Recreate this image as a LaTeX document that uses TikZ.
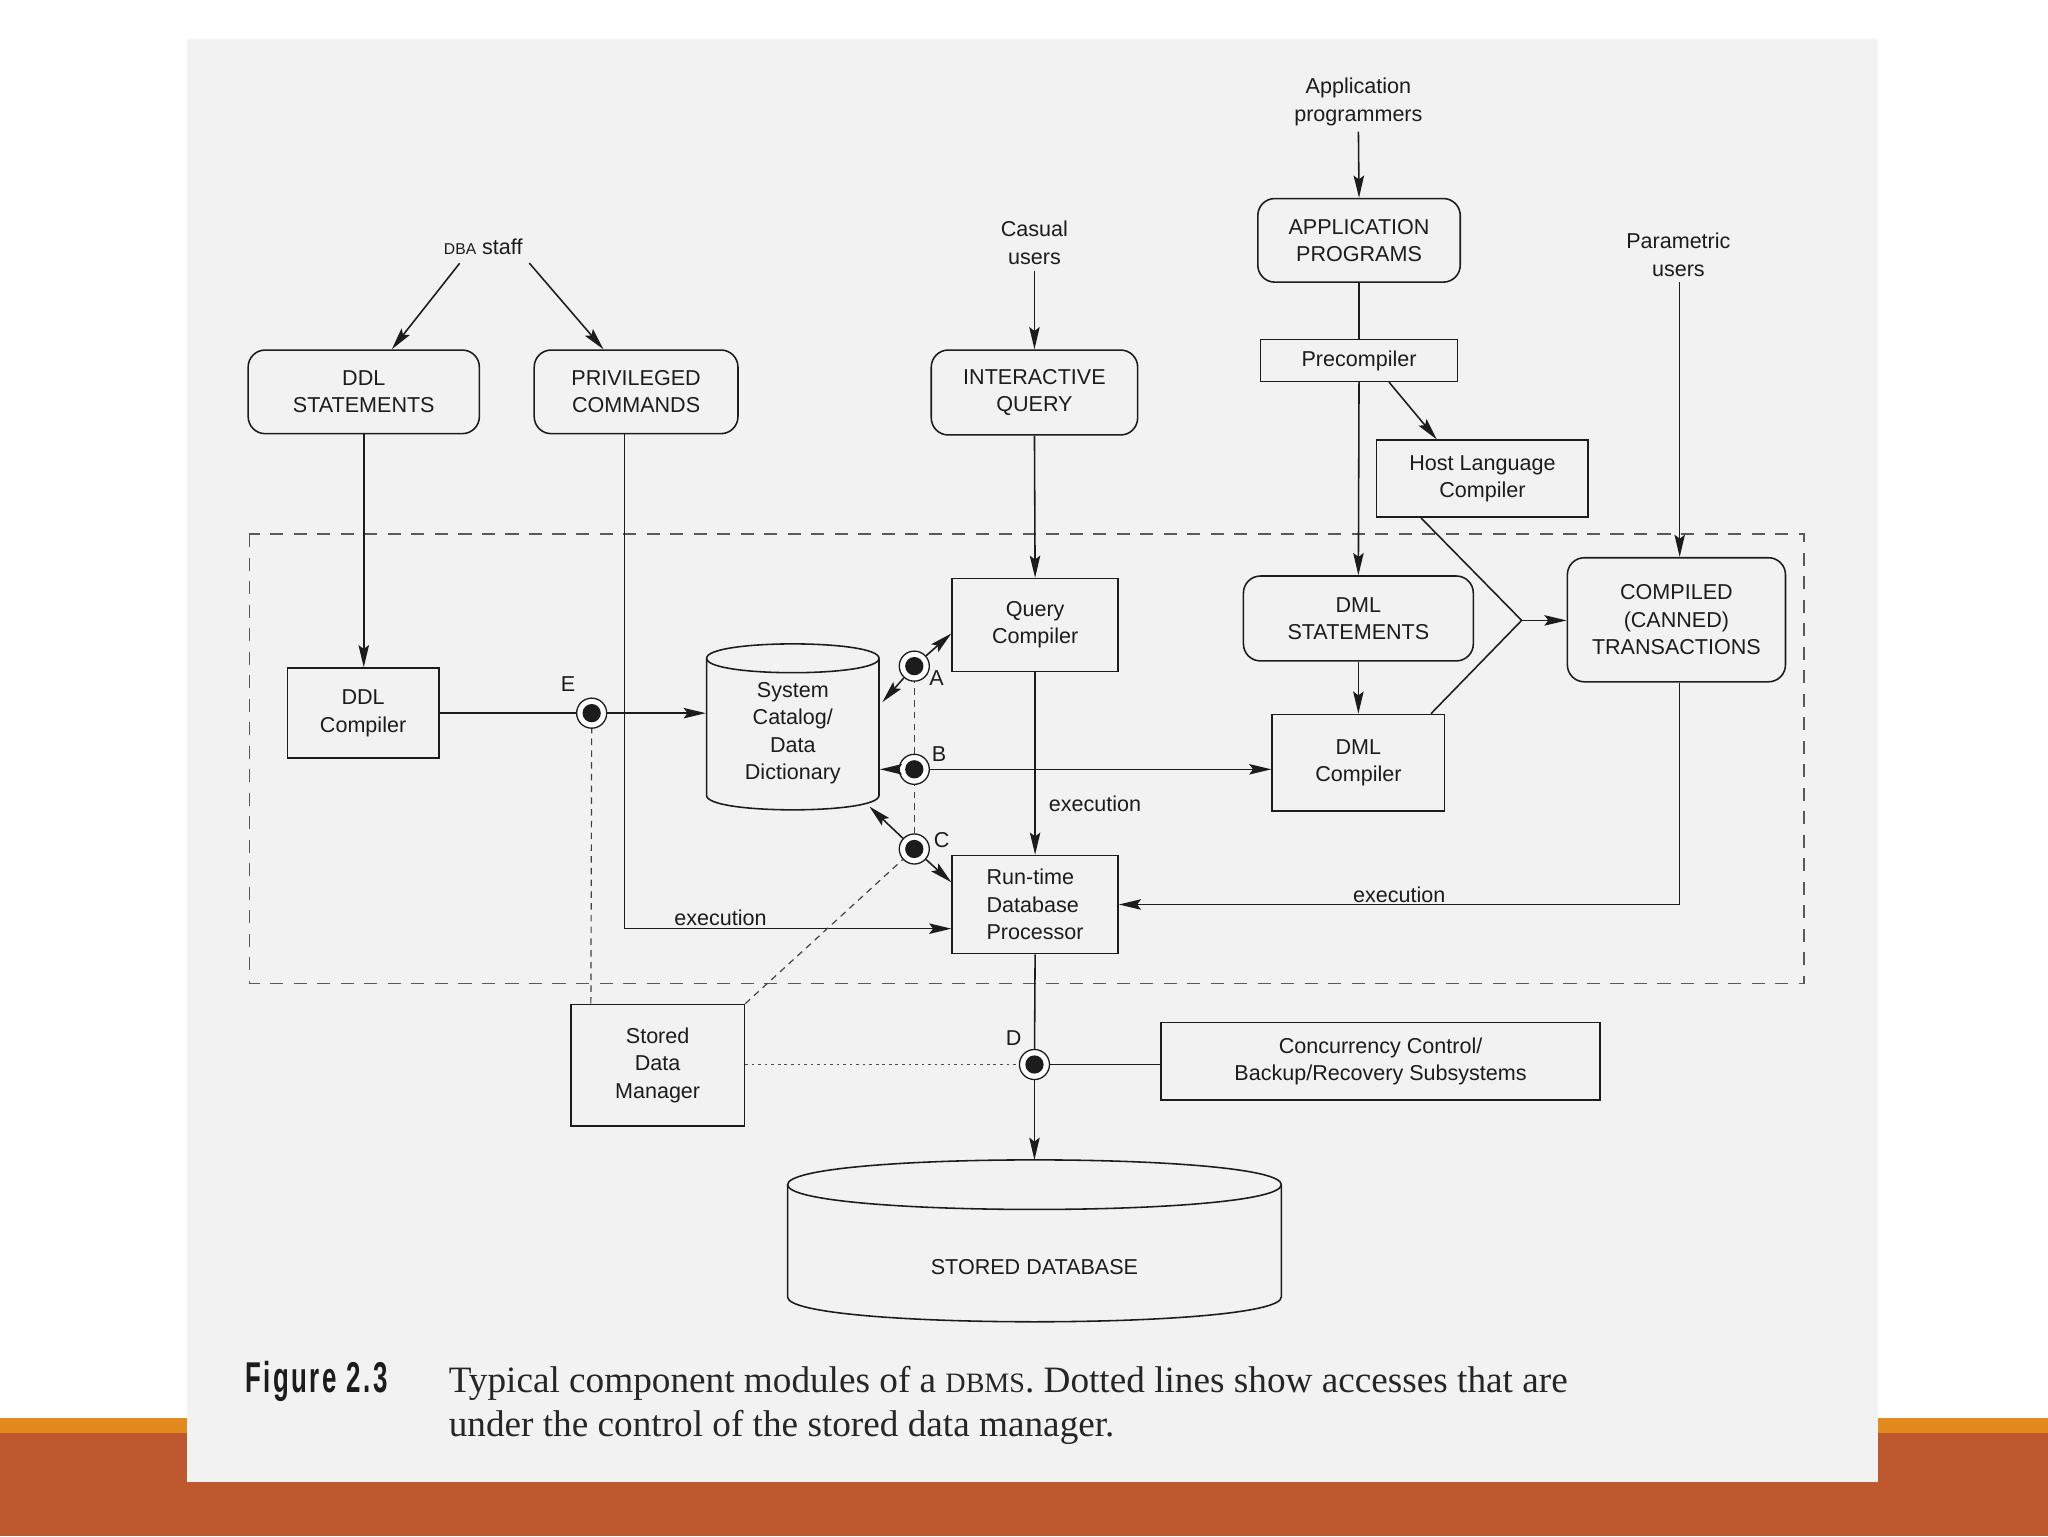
\documentclass[tikz,border=0pt]{standalone}
\usepackage{fontspec}
\usepackage{graphicx}
\usetikzlibrary{arrows.meta,calc}
\newfontfamily\dsans{Liberation Sans}
\newfontfamily\figsans[LetterSpace=10]{Liberation Sans}
\newfontfamily\capserif{Liberation Serif}
\newcommand\diagfont{\dsans\fontsize{16.5}{21}\selectfont}
\definecolor{scan}{RGB}{242,242,242}
\definecolor{brownband}{RGB}{190,88,46}
\definecolor{orangeline}{RGB}{226,138,30}
\definecolor{ink}{RGB}{28,28,28}
\begin{document}
\begin{tikzpicture}[x=1pt,y=-1pt,
  line width=1.2pt, color=ink,
  every node/.style={font=\diagfont, text=ink, inner sep=0pt, align=center},
  rbox/.style={draw, rounded corners=13pt, line width=1.2pt},
  sbox/.style={draw, line width=1.2pt},
  arr/.style={-{Stealth[length=17pt,width=8pt,inset=3pt]}},
  acc/.style={circle, draw, fill=white, minimum size=23pt, line width=1pt,
    path picture={\fill[ink] (path picture bounding box.center) circle (7pt);}},
  dashline/.style={line width=0.9pt, dash pattern=on 5pt off 4pt, color=black!75},
  dotline/.style={line width=1pt, dash pattern=on 2pt off 3pt, color=black!70},
  region/.style={dash pattern=on 10pt off 8pt, line width=1.2pt, color=black!65},
  ]
% background
\fill[white] (0,0) rectangle (1568,1176);
\fill[orangeline] (0,1086) rectangle (1568,1097);
\fill[brownband] (0,1097) rectangle (1568,1176);
\fill[scan] (143,30) rectangle (1438,1135);
\useasboundingbox (0,0) rectangle (1568,1176);

% dashed DBMS region
\draw[region] (191,409) rectangle (1381,753);

% cylinders
\draw (541,504) .. controls (541,489.3) and (673,489.3) .. (673,504)
      .. controls (673,518.7) and (541,518.7) .. (541,504) -- cycle;
\draw (541,504) -- (541,609) .. controls (541,623.7) and (673,623.7) .. (673,609) -- (673,504);
\draw (603,907) .. controls (603,881.7) and (981,881.7) .. (981,907)
      .. controls (981,932.3) and (603,932.3) .. (603,907) -- cycle;
\draw (603,907) -- (603,993) .. controls (603,1018.3) and (981,1018.3) .. (981,993) -- (981,907);

% text-only nodes
\node (appusers) at (1040,78) {Application\\programmers};
\node (casual) at (792,186) {Casual\\users};
\node (param) at (1285,195) {Parametric\\users};
\node (dba) at (370,189) {{\fontsize{12}{14}\selectfont DBA} staff};

% boxes
\node[rbox, minimum width=155pt, minimum height=64pt] (appprog) at (1040.5,184) {APPLICATION\\PROGRAMS};
\node[sbox, minimum width=151pt, minimum height=32pt] (precomp) at (1040.5,276) {Precompiler};
\node[sbox, minimum width=162pt, minimum height=59pt] (hlc) at (1135,366.5) {Host Language\\Compiler};
\node[rbox, minimum width=167pt, minimum height=95pt] (ct) at (1283.5,474.5) {COMPILED\\(CANNED)\\TRANSACTIONS};
\node[rbox, minimum width=176pt, minimum height=65pt] (dmls) at (1040,473.5) {DML\\STATEMENTS};
\node[sbox, minimum width=132pt, minimum height=74pt] (dmlc) at (1040,584) {DML\\Compiler};
\node[rbox, minimum width=158pt, minimum height=65pt] (iq) at (792,300.5) {INTERACTIVE\\QUERY};
\node[sbox, minimum width=127pt, minimum height=71pt] (qc) at (792.5,478.5) {Query\\Compiler};
\node[sbox, minimum width=127pt, minimum height=75pt, align=left] (rt) at (792.5,692.5) {Run-time\\Database\\Processor};
\node[sbox, minimum width=336pt, minimum height=59pt] (cc) at (1057,812.5) {Concurrency Control/\\Backup/Recovery Subsystems};
\node[sbox, minimum width=133pt, minimum height=93pt] (sdm) at (503.5,815.5) {Stored\\Data\\Manager};
\node[sbox, minimum width=116pt, minimum height=69pt] (ddlc) at (278,546) {DDL\\Compiler};
\node[rbox, minimum width=177pt, minimum height=64pt] (ddls) at (278.5,300) {DDL\\STATEMENTS};
\node[rbox, minimum width=156pt, minimum height=64pt] (priv) at (487,300) {PRIVILEGED\\COMMANDS};
\node[minimum width=132pt, minimum height=117pt] (cat) at (607,561.5) {System\\Catalog/\\Data\\Dictionary};
\node (sdb) at (792,970) {STORED DATABASE};
\coordinate (sdbtop) at (792,888);
\coordinate (J) at (1165,475);

% access points
\node[acc] (A) at (700,510) {};
\node[acc] (B) at (700,589) {};
\node[acc] (C) at (700,650) {};
\node[acc] (D) at (792,815) {};
\node[acc] (E) at (453,546) {};
\node (labA) at (717,519) {A};
\node (labB) at (719,577) {B};
\node (labC) at (721,643) {C};
\node (labD) at (776,795) {D};
\node (labE) at (435,524) {E};

% connectors (top area)
\draw[arr, shorten <=4pt] (appusers.south) -- (appprog.north);
\draw (appprog.south) -- (precomp.north);
\draw[arr] (precomp.south) -- (dmls.north);
\draw[arr] ($(precomp.south)+(23,0)$) -- ($(hlc.north)+(-35,0)$);
\draw ($(hlc.south)+(-47,0)$) -- (J) -- ($(dmlc.north east)+(-11,0)$);
\draw[arr] (J) -- (J -| ct.west);
\coordinate (ctin) at ($(ct.north)+(2.5,0)$);
\draw[arr, shorten <=4pt] (param.south -| ctin) -- (ctin);
\draw[arr] ($(ct.south)+(2.5,0)$) |- node[pos=0.75, above=1pt] (ex3) {execution} (rt.east);
\draw[arr] (dmls.south) -- (dmlc.north);
\draw[arr, shorten <=4pt] (casual.south) -- (iq.north);
\draw[arr] (iq.south) -- (qc.north);
\draw[arr] (qc.south) -- node[pos=0.72, anchor=west, xshift=10pt] (ex2) {execution} (rt.north);
\draw[arr, shorten <=5pt] ($(dba.south)+(-15,2)$) -- ($(ddls.north)+(21.5,0)$);
\draw[arr, shorten <=5pt] ($(dba.south)+(32,2)$) -- ($(priv.north)+(-25,0)$);
\draw[arr] (ddls.south) -- (ddls.south |- ddlc.north);
\draw[arr] ($(priv.south)+(-9,0)$) |- node[pos=0.647, above=2pt] (ex1) {execution} ($(rt.west)+(0,18.5)$);

% access connectors
\draw (ddlc.east) -- (E);
\draw[arr] (E) -- (E -| cat.west);
\draw[arr] (A) -- ($(cat.east)+(2,-24)$);
\draw[arr] (A) -- ($(qc.west)+(0,6.5)$);
\draw[arr] (B) -- (B -| cat.east);
\draw[arr] (B) -- (B -| dmlc.west);
\draw[arr] (C) -- ($(cat.east)+(-8,56)$);
\draw[arr] (C) -- ($(rt.west)+(0,-17)$);
\draw (rt.south) -- (D);
\draw[arr] (D) -- (sdbtop);
\draw (D) -- (D -| cc.west);

% stored data manager accesses
\draw[dotline] (sdm.east |- D) -- (D.west);
\draw[dashline] ($(sdm.north west)+(16,0)$) -- (E.south);
\draw[dashline] (sdm.north east) -- (C);
\draw[dashline] (C.north) -- (B.south);
\draw[dashline] (B.north) -- (A.south);

% caption
\node[anchor=base west] (fig) at (187,1066) {\scalebox{0.6}[1]{\figsans\bfseries\fontsize{33}{33}\selectfont Figure 2.3}};
\node[anchor=base west, font=\capserif\fontsize{28.5}{34}\selectfont, text=black!85] (cap1) at (343,1066) {Typical component modules of a {\fontsize{21.5}{21.5}\selectfont DBMS}. Dotted lines show accesses that are};
\node[anchor=base west, font=\capserif\fontsize{28.5}{34}\selectfont, text=black!85] (cap2) at (343,1100) {under the control of the stored data manager.};
\end{tikzpicture}
\end{document}
